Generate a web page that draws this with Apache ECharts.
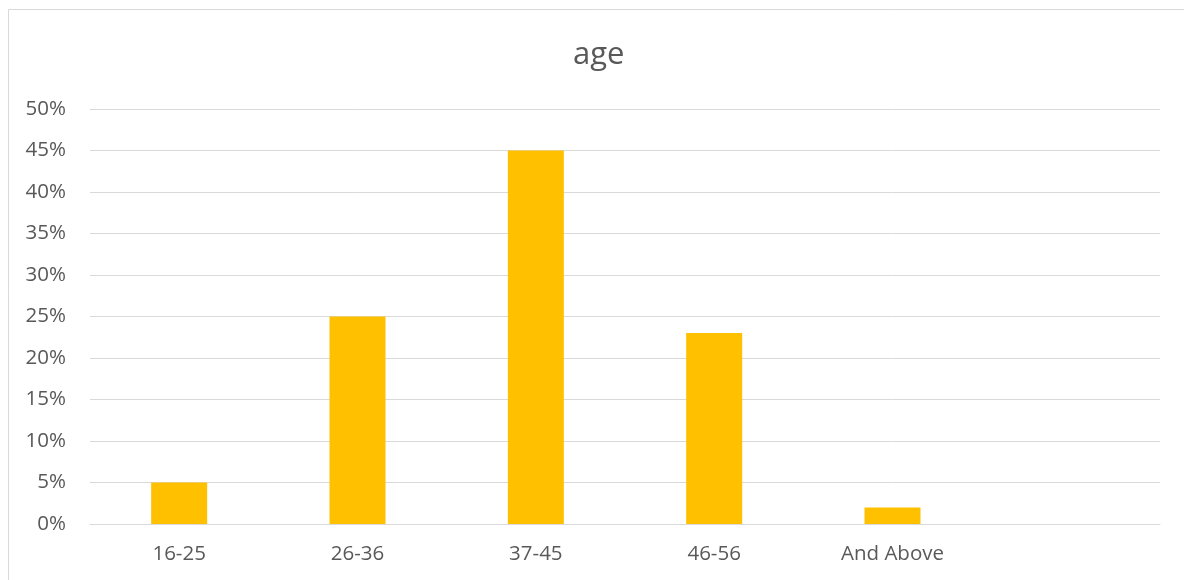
<!DOCTYPE html>
<html>
<head>
<meta charset="utf-8">
<script src="https://cdn.jsdelivr.net/npm/echarts@6/dist/echarts.min.js"></script>
<style>
  html, body { margin: 0; padding: 0; background: #fff; }
  #chart { width: 1184px; height: 580px; }
</style>
</head>
<body>
<div id="chart"></div>
<script>
// Age groups; the trailing blank slot keeps the empty space at the right of the plot
const categories = ['16-25', '26-36', '37-45', '46-56', 'And Above', ''];
const shares = [5, 25, 45, 23, 2, null];   // percent of respondents
const yTicks = { min: 0, max: 50, step: 5 };

const chart = echarts.init(document.getElementById('chart'));
chart.setOption({
  animation: false,
  backgroundColor: '#ffffff',
  title: {
    text: 'age',
    left: 573,
    top: 40,
    padding: 0,
    textStyle: { fontFamily: 'Open Sans', fontSize: 31, fontWeight: 'normal', color: '#595959' }
  },
  graphic: [{
    type: 'rect',
    shape: { x: 8.5, y: 9.5, width: 1200, height: 600 },
    style: { fill: 'none', stroke: '#d9d9d9', lineWidth: 1 },
    silent: true
  }],
  grid: { left: 90, right: 24, top: 109, bottom: 56, containLabel: false },
  xAxis: {
    type: 'category',
    data: categories,
    axisTick: { show: false },
    axisLine: { show: true, lineStyle: { color: '#d9d9d9', width: 1 } },
    axisLabel: { fontFamily: 'Open Sans', fontSize: 20.5, color: '#595959', margin: 20 }
  },
  yAxis: {
    type: 'value',
    min: yTicks.min,
    max: yTicks.max,
    interval: yTicks.step,
    axisLine: { show: false },
    axisTick: { show: false },
    splitLine: { lineStyle: { color: '#d9d9d9', width: 1 } },
    axisLabel: { formatter: '{value}%', fontFamily: 'Open Sans', fontSize: 20.5, color: '#595959', margin: 24 }
  },
  series: [{
    type: 'bar',
    data: shares,
    barWidth: 56,
    itemStyle: { color: '#FFC000' }
  }]
});
</script>
</body>
</html>
